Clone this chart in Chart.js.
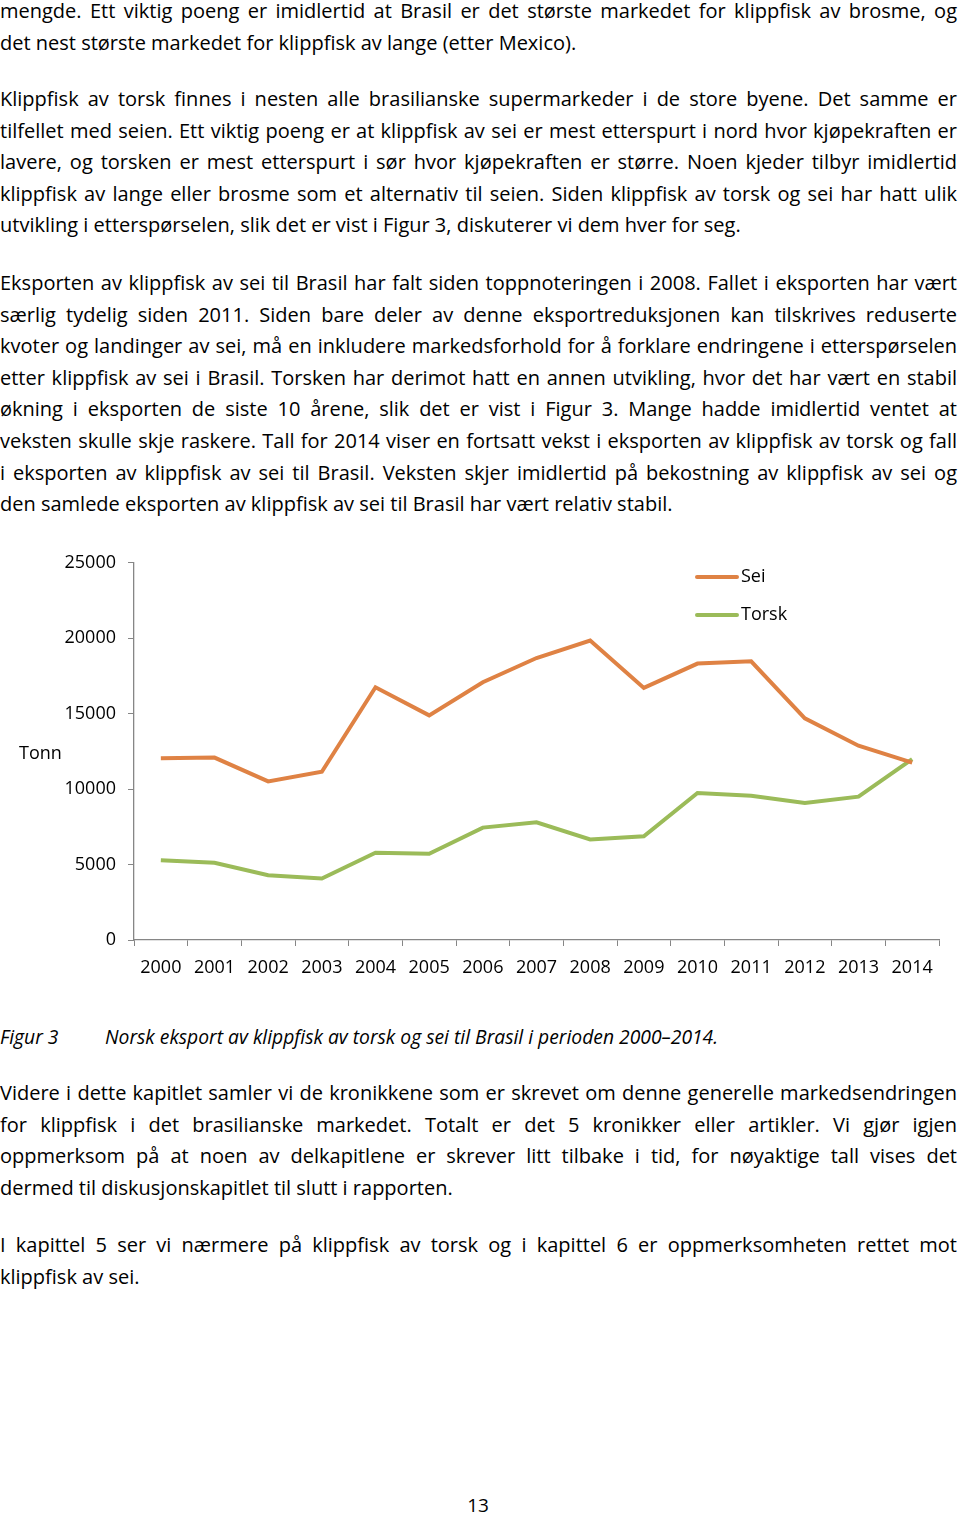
<!DOCTYPE html>
<html>
<head>
<meta charset="utf-8">
<script src="https://cdn.jsdelivr.net/npm/chart.js@4/dist/chart.umd.min.js"></script>
<style>
  body { margin: 0; background: #fff; width: 960px; height: 1515px; position: relative; overflow: hidden;
         font-family: "Open Sans", Lato, sans-serif; font-size: 20px; color: #000; }
  .p { position: absolute; left: 0; width: 957px; }
  .p div { height: 31.6px; line-height: 31.6px; white-space: nowrap; text-align: justify; text-align-last: justify; }
  .p div.last { text-align: left; text-align-last: left; }
  .cap { position: absolute; top: 1021px; font-style: italic; line-height: 31.6px; font-size: 19.3px; }
  #chartBox { position: absolute; left: 0; top: 540px; width: 960px; height: 460px; }
  #pnum { position: absolute; top: 1490px; left: 0; width: 956px; text-align: center; line-height: 31.6px; font-size: 19px; }
</style>
</head>
<body>
<div class="p" style="top:-5px">
  <div>mengde. Ett viktig poeng er imidlertid at Brasil er det største markedet for klippfisk av brosme, og</div>
  <div class="last">det nest største markedet for klippfisk av lange (etter Mexico).</div>
</div>
<div class="p" style="top:83px">
  <div>Klippfisk av torsk finnes i nesten alle brasilianske supermarkeder i de store byene. Det samme er</div>
  <div>tilfellet med seien. Ett viktig poeng er at klippfisk av sei er mest etterspurt i nord hvor kjøpekraften er</div>
  <div>lavere, og torsken er mest etterspurt i sør hvor kjøpekraften er større. Noen kjeder tilbyr imidlertid</div>
  <div>klippfisk av lange eller brosme som et alternativ til seien. Siden klippfisk av torsk og sei har hatt ulik</div>
  <div class="last">utvikling i etterspørselen, slik det er vist i Figur 3, diskuterer vi dem hver for seg.</div>
</div>
<div class="p" style="top:267px">
  <div>Eksporten av klippfisk av sei til Brasil har falt siden toppnoteringen i 2008. Fallet i eksporten har vært</div>
  <div>særlig tydelig siden 2011. Siden bare deler av denne eksportreduksjonen kan tilskrives reduserte</div>
  <div>kvoter og landinger av sei, må en inkludere markedsforhold for å forklare endringene i etterspørselen</div>
  <div>etter klippfisk av sei i Brasil. Torsken har derimot hatt en annen utvikling, hvor det har vært en stabil</div>
  <div>økning i eksporten de siste 10 årene, slik det er vist i Figur 3. Mange hadde imidlertid ventet at</div>
  <div>veksten skulle skje raskere. Tall for 2014 viser en fortsatt vekst i eksporten av klippfisk av torsk og fall</div>
  <div>i eksporten av klippfisk av sei til Brasil. Veksten skjer imidlertid på bekostning av klippfisk av sei og</div>
  <div class="last">den samlede eksporten av klippfisk av sei til Brasil har vært relativ stabil.</div>
</div>

<div id="chartBox"><canvas id="chart"></canvas></div>

<div class="cap" style="left:0">Figur 3</div>
<div class="cap" style="left:105px">Norsk eksport av klippfisk av torsk og sei til Brasil i perioden 2000–2014.</div>

<div class="p" style="top:1077px">
  <div>Videre i dette kapitlet samler vi de kronikkene som er skrevet om denne generelle markedsendringen</div>
  <div>for klippfisk i det brasilianske markedet. Totalt er det 5 kronikker eller artikler. Vi gjør igjen</div>
  <div>oppmerksom på at noen av delkapitlene er skrever litt tilbake i tid, for nøyaktige tall vises det</div>
  <div class="last">dermed til diskusjonskapitlet til slutt i rapporten.</div>
</div>
<div class="p" style="top:1229px">
  <div>I kapittel 5 ser vi nærmere på klippfisk av torsk og i kapittel 6 er oppmerksomheten rettet mot</div>
  <div class="last">klippfisk av sei.</div>
</div>
<div id="pnum">13</div>

<script>
const years = ["2000", "2001", "2002", "2003", "2004", "2005", "2006", "2007",
               "2008", "2009", "2010", "2011", "2012", "2013", "2014"];
const sei = [12050, 12090, 10510, 11150, 16750, 14890, 17080, 18690,
             19850, 16710, 18320, 18470, 14690, 12880, 11760];
const torsk = [5280, 5120, 4290, 4070, 5780, 5720, 7450, 7800,
               6660, 6880, 9740, 9560, 9080, 9500, 11990];
const yTicks = [0, 5000, 10000, 15000, 20000, 25000];
const yTitle = "Tonn";

const axisGray = "#868686";
const font = { family: "'Open Sans', Lato, sans-serif", size: 18 };

// legend and horizontal axis title, drawn at the right of the plot like the original
const sideText = {
  id: "sideText",
  afterDraw(chart) {
    const ctx = chart.ctx;
    ctx.save();
    ctx.font = "18px 'Open Sans', Lato, sans-serif";
    ctx.fillStyle = "#000";
    ctx.textBaseline = "middle";
    ctx.fillText(yTitle, 19, 214);
    chart.data.datasets.forEach((ds, i) => {
      const y = 37 + i * 38;
      ctx.strokeStyle = ds.borderColor;
      ctx.lineWidth = 4;
      ctx.lineCap = "round";
      ctx.beginPath();
      ctx.moveTo(697, y);
      ctx.lineTo(737, y);
      ctx.stroke();
      ctx.fillText(ds.label, 741, y);
    });
    ctx.restore();
  }
};

new Chart(document.getElementById("chart"), {
  type: "line",
  data: {
    labels: years,
    datasets: [
      { label: "Sei", data: sei, borderColor: "#DF8244", borderWidth: 4, pointRadius: 0, tension: 0 },
      { label: "Torsk", data: torsk, borderColor: "#9BBB59", borderWidth: 4, pointRadius: 0, tension: 0 }
    ]
  },
  options: {
    responsive: true,
    maintainAspectRatio: false,
    animation: false,
    layout: { padding: { top: 21, right: 21, left: 0, bottom: 0 } },
    plugins: { legend: { display: false }, tooltip: { enabled: false } },
    scales: {
      x: {
        offset: true,
        grid: { offset: true, drawOnChartArea: false, drawTicks: true, tickLength: 6, color: axisGray },
        border: { color: axisGray, width: 1.3 },
        ticks: { color: "#000", font: font, padding: 11, maxRotation: 0, autoSkip: false },
        afterFit(s) { s.height = 60; }
      },
      y: {
        min: 0,
        max: 25000,
        afterBuildTicks(s) { s.ticks = yTicks.map(v => ({ value: v })); },
        grid: { drawOnChartArea: false, drawTicks: true, tickLength: 6, color: axisGray },
        border: { color: axisGray, width: 1.3 },
        ticks: { color: "#000", font: font, padding: 12, callback: v => String(v) },
        afterFit(s) { s.width = 134; }
      }
    }
  },
  plugins: [sideText]
});
</script>
</body>
</html>
